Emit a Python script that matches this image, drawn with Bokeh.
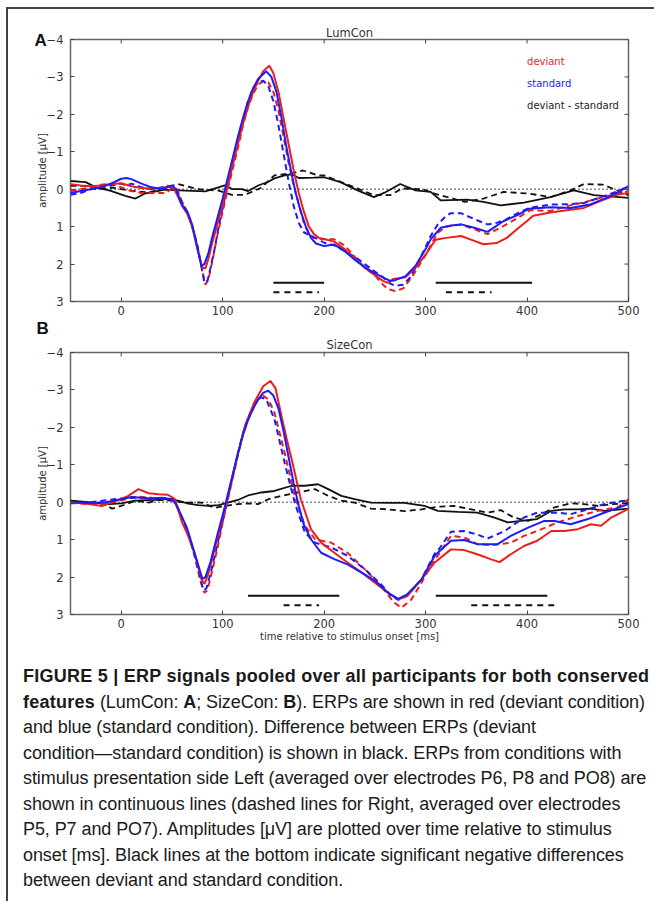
import math
from bokeh.plotting import figure
from bokeh.models import Range1d, LinearAxis, FixedTicker, Div, Title
from bokeh.layouts import column
from bokeh.embed import file_html
from bokeh.resources import INLINE

# ---------------- Panel A: LumCon ----------------
a_red_sol_t = [-50, -40, -30, -20, -10, 0, 10, 20, 30, 40, 48, 52, 56, 60, 65, 70, 75, 80, 83, 86, 90, 95, 100, 105, 110, 115, 120, 125, 130, 135, 140, 146, 150, 155, 160, 165, 170, 175, 180, 185, 190, 195, 200, 210, 220, 230, 240, 250, 258, 263, 268, 275, 280, 290, 300, 306, 310, 320, 335, 348, 357, 370, 380, 390, 400, 406, 423, 439, 456, 472, 489, 500]
a_red_sol_v = [-0.13, -0.1, -0.08, -0.1, -0.14, -0.16, -0.08, -0.03, -0.02, -0.03, -0.08, -0.02, 0.2, 0.45, 0.65, 1.0, 1.6, 2.1, 2.12, 1.85, 1.4, 0.9, 0.4, -0.1, -0.65, -1.2, -1.75, -2.2, -2.6, -2.9, -3.15, -3.3, -3.1, -2.6, -1.9, -1.2, -0.5, 0.1, 0.6, 1.0, 1.2, 1.3, 1.33, 1.4, 1.6, 1.85, 2.1, 2.3, 2.45, 2.5, 2.4, 2.37, 2.35, 2.1, 1.75, 1.5, 1.35, 1.3, 1.25, 1.38, 1.47, 1.44, 1.3, 1.07, 0.85, 0.71, 0.62, 0.56, 0.5, 0.32, 0.14, 0.1]

a_blue_sol_t = [-50, -40, -30, -20, -10, 0, 5, 10, 20, 30, 40, 45, 50, 54, 58, 62, 66, 70, 75, 79, 82, 86, 90, 95, 100, 105, 110, 115, 120, 125, 130, 135, 143, 148, 153, 158, 163, 168, 172, 177, 182, 187, 192, 200, 210, 220, 230, 240, 250, 260, 265, 270, 280, 290, 300, 305, 315, 325, 335, 348, 361, 377, 390, 402, 423, 443, 462, 478, 490, 500]
a_blue_sol_v = [0.1, 0.05, 0.0, -0.05, -0.15, -0.28, -0.3, -0.27, -0.15, -0.05, 0.0, -0.05, -0.1, 0.0, 0.3, 0.5, 0.65, 0.95, 1.55, 2.05, 2.0, 1.7, 1.25, 0.75, 0.25, -0.3, -0.85, -1.4, -1.9, -2.35, -2.7, -2.95, -3.15, -3.0, -2.6, -1.9, -1.1, -0.4, 0.1, 0.6, 1.0, 1.3, 1.45, 1.52, 1.48, 1.65, 1.88, 2.08, 2.25, 2.38, 2.45, 2.43, 2.33, 2.05, 1.6, 1.34, 1.03, 0.97, 0.94, 1.03, 1.14, 0.85, 0.7, 0.52, 0.48, 0.5, 0.41, 0.23, 0.08, -0.08]

a_red_dash_t = [-50, -40, -30, -20, -10, 0, 10, 20, 30, 40, 45, 50, 55, 60, 65, 70, 75, 80, 83, 86, 90, 95, 100, 105, 110, 115, 120, 125, 130, 135, 140, 145, 150, 155, 160, 165, 170, 175, 180, 185, 190, 200, 210, 220, 230, 240, 250, 258, 263, 270, 278, 285, 290, 300, 306, 312, 320, 335, 348, 361, 377, 390, 403, 423, 440, 456, 478, 490, 500]
a_red_dash_v = [0.05, 0.0, -0.05, -0.12, -0.15, -0.05, 0.05, 0.1, 0.1, 0.1, 0.1, -0.05, 0.0, 0.35, 0.6, 1.0, 1.5, 2.2, 2.55, 2.4, 1.9, 1.2, 0.6, 0.0, -0.55, -1.1, -1.7, -2.2, -2.55, -2.8, -2.88, -2.85, -2.6, -2.1, -1.4, -0.7, -0.1, 0.4, 0.9, 1.2, 1.3, 1.34, 1.34, 1.5, 1.8, 2.1, 2.3, 2.55, 2.67, 2.72, 2.65, 2.4, 2.2, 1.75, 1.45, 1.16, 1.0, 0.94, 1.07, 1.2, 0.98, 0.78, 0.56, 0.58, 0.45, 0.35, 0.19, 0.12, 0.05]

a_blue_dash_t = [-50, -40, -30, -20, -10, 0, 5, 10, 15, 20, 30, 40, 45, 50, 55, 60, 65, 70, 75, 80, 82, 85, 88, 92, 96, 100, 105, 110, 115, 120, 125, 130, 135, 140, 145, 150, 155, 160, 165, 170, 175, 180, 187, 195, 200, 210, 220, 230, 240, 250, 258, 265, 270, 278, 285, 290, 300, 305, 312, 320, 325, 335, 348, 361, 370, 380, 390, 402, 423, 440, 456, 475, 490, 500]
a_blue_dash_v = [0.15, 0.1, 0.0, -0.05, -0.1, -0.15, -0.1, -0.15, -0.1, -0.05, 0.0, -0.05, -0.1, -0.05, 0.05, 0.35, 0.6, 1.0, 1.5, 2.2, 2.5, 2.45, 2.1, 1.6, 1.0, 0.5, -0.1, -0.7, -1.3, -1.85, -2.35, -2.7, -2.85, -2.9, -2.75, -2.35, -1.7, -0.95, -0.2, 0.45, 0.9, 1.15, 1.25, 1.35, 1.43, 1.5, 1.65, 1.8, 2.0, 2.2, 2.35, 2.52, 2.58, 2.55, 2.35, 2.1, 1.55, 1.25, 0.94, 0.72, 0.64, 0.64, 0.8, 0.94, 0.9, 0.8, 0.65, 0.5, 0.41, 0.4, 0.37, 0.19, 0.05, -0.08]

a_diff_sol_t = [-50, -35, -25, -11, 4, 14, 23, 43, 63, 83, 102, 110, 119, 125, 135, 145, 151, 161, 168, 175, 190, 200, 216, 233, 249, 259, 275, 290, 305, 315, 341, 357, 374, 397, 423, 446, 466, 500]
a_diff_sol_v = [-0.22, -0.19, -0.05, 0.04, 0.18, 0.25, 0.12, 0.01, 0.04, 0.06, -0.1, 0.0, 0.0, 0.05, -0.1, -0.2, -0.29, -0.37, -0.4, -0.3, -0.31, -0.32, -0.19, 0.03, 0.21, 0.1, -0.14, 0.03, 0.07, 0.3, 0.28, 0.34, 0.43, 0.36, 0.21, 0.03, 0.16, 0.23]

a_diff_dash_t = [-50, -35, -25, -8, 10, 27, 43, 56, 76, 96, 109, 122, 138, 151, 168, 179, 194, 200, 216, 233, 249, 265, 277, 297, 309, 339, 357, 377, 403, 423, 443, 456, 475, 500]
a_diff_dash_v = [-0.09, -0.09, 0.0, -0.04, 0.04, 0.09, -0.04, -0.14, 0.0, 0.04, 0.15, 0.15, -0.04, -0.37, -0.43, -0.5, -0.37, -0.37, -0.2, -0.02, 0.16, 0.16, -0.02, 0.0, 0.12, 0.34, 0.25, 0.07, 0.12, 0.21, 0.03, -0.14, -0.12, 0.16]

a_sig_solid = [(150, 200), (310, 405)]
a_sig_dashed = [(150, 195), (320, 365)]

# ---------------- Panel B: SizeCon ----------------
b_red_sol_t = [-50, -32, -19, -6, 7, 17, 27, 37, 46, 53, 60, 66, 73, 79, 82, 86, 92, 102, 112, 122, 131, 140, 147, 152, 158, 163, 168, 177, 187, 197, 210, 223, 237, 250, 263, 273, 282, 296, 309, 325, 338, 351, 364, 373, 384, 397, 410, 424, 437, 450, 463, 473, 483, 496, 500]
b_red_sol_v = [0.0, 0.05, 0.1, -0.03, -0.17, -0.35, -0.24, -0.21, -0.2, -0.08, 0.54, 0.9, 1.43, 2.06, 2.18, 1.9, 1.26, 0.19, -0.97, -2.04, -2.66, -3.1, -3.24, -3.05, -2.3, -1.7, -1.15, -0.08, 0.72, 1.08, 1.35, 1.61, 1.88, 2.15, 2.42, 2.6, 2.5, 2.06, 1.61, 1.26, 1.28, 1.39, 1.52, 1.6, 1.39, 1.17, 1.03, 0.77, 0.77, 0.72, 0.59, 0.63, 0.41, 0.23, 0.17]

b_blue_sol_t = [-50, -30, -15, 0, 10, 20, 30, 40, 50, 55, 60, 65, 70, 75, 80, 83, 88, 95, 100, 105, 110, 115, 120, 125, 130, 135, 140, 145, 150, 155, 160, 165, 170, 175, 180, 187, 197, 210, 223, 237, 250, 263, 273, 282, 296, 309, 312, 325, 338, 351, 371, 384, 401, 417, 427, 443, 460, 476, 500]
b_blue_sol_v = [0.0, 0.02, 0.0, -0.08, -0.14, -0.12, -0.1, -0.12, -0.08, 0.1, 0.4, 0.7, 1.15, 1.6, 2.05, 2.0, 1.6, 0.85, 0.35, -0.2, -0.75, -1.3, -1.8, -2.2, -2.5, -2.75, -2.92, -2.98, -2.85, -2.5, -1.9, -1.2, -0.5, 0.1, 0.6, 0.99, 1.35, 1.52, 1.66, 1.88, 2.1, 2.42, 2.58, 2.46, 2.06, 1.43, 1.35, 1.03, 1.01, 1.12, 1.12, 0.9, 0.68, 0.5, 0.5, 0.59, 0.45, 0.28, 0.05]

b_red_dash_t = [-50, -30, -15, 0, 15, 30, 45, 52, 58, 63, 68, 73, 78, 82, 85, 90, 95, 100, 105, 110, 115, 120, 125, 130, 135, 140, 145, 151, 161, 171, 181, 191, 207, 223, 240, 256, 269, 276, 286, 296, 309, 312, 325, 338, 351, 364, 384, 397, 410, 430, 450, 470, 489, 500]
b_red_dash_v = [0.02, 0.05, 0.05, -0.05, -0.15, -0.12, -0.1, -0.05, 0.3, 0.65, 1.0, 1.5, 2.1, 2.42, 2.35, 1.8, 1.2, 0.55, -0.05, -0.65, -1.25, -1.8, -2.2, -2.5, -2.75, -2.84, -2.75, -2.4, -1.33, -0.17, 0.63, 0.99, 1.08, 1.35, 1.79, 2.24, 2.68, 2.82, 2.6, 2.15, 1.52, 1.43, 0.9, 0.94, 1.12, 1.15, 1.08, 0.9, 0.77, 0.54, 0.37, 0.23, 0.14, -0.08]

b_blue_dash_t = [-50, -30, -15, 0, 15, 30, 45, 52, 58, 63, 68, 73, 78, 81, 84, 89, 95, 100, 105, 110, 115, 120, 125, 130, 135, 138, 143, 151, 161, 171, 181, 191, 207, 223, 240, 256, 266, 273, 282, 296, 309, 312, 325, 338, 351, 361, 378, 397, 410, 430, 443, 460, 476, 496, 500]
b_blue_dash_v = [0.03, 0.0, -0.05, -0.1, -0.12, -0.1, -0.1, -0.05, 0.3, 0.6, 1.0, 1.5, 2.05, 2.35, 2.3, 1.8, 1.1, 0.5, -0.1, -0.7, -1.3, -1.85, -2.25, -2.55, -2.75, -2.8, -2.75, -2.22, -1.06, 0.01, 0.81, 1.08, 1.21, 1.43, 1.79, 2.19, 2.5, 2.61, 2.5, 2.06, 1.37, 1.3, 0.79, 0.77, 0.86, 0.97, 0.77, 0.41, 0.28, 0.28, 0.32, 0.19, 0.05, -0.04, -0.06]

b_diff_sol_t = [-50, -32, -12, 0, 14, 33, 46, 56, 66, 76, 86, 96, 105, 115, 125, 138, 151, 168, 181, 194, 204, 217, 230, 246, 263, 279, 299, 312, 332, 351, 368, 381, 394, 410, 424, 437, 450, 463, 476, 500]
b_diff_sol_v = [-0.04, 0.0, 0.05, 0.03, -0.04, -0.06, -0.08, -0.04, 0.04, 0.08, 0.1, 0.08, 0.01, -0.06, -0.18, -0.26, -0.3, -0.44, -0.44, -0.48, -0.35, -0.17, -0.08, 0.01, 0.02, 0.02, 0.1, 0.23, 0.26, 0.28, 0.41, 0.54, 0.5, 0.45, 0.23, 0.19, 0.19, 0.17, 0.23, 0.17]

b_diff_dash_t = [-50, -32, -19, -9, 0, 14, 27, 37, 50, 63, 79, 92, 102, 115, 125, 135, 145, 158, 174, 191, 204, 217, 230, 246, 263, 279, 296, 312, 328, 345, 361, 374, 387, 401, 414, 427, 443, 456, 470, 483, 500]
b_diff_dash_v = [-0.04, 0.03, 0.03, 0.17, 0.1, -0.04, 0.01, -0.06, -0.04, 0.01, 0.01, 0.15, 0.1, 0.05, 0.03, 0.05, -0.08, -0.17, -0.26, -0.35, -0.17, -0.04, 0.01, 0.17, 0.19, 0.24, 0.19, 0.12, 0.1, 0.19, 0.28, 0.21, 0.41, 0.5, 0.32, 0.14, 0.03, 0.05, 0.1, 0.05, 0.03]

b_sig_solid = [(125, 215), (310, 420)]
b_sig_dashed = [(160, 195), (345, 428)]

x_ticks = [0, 100, 200, 300, 400, 500]
y_ticks = [-4, -3, -2, -1, 0, 1, 2, 3]
x_lim = (-50, 500)
y_lim = (3, -4)
legend_labels = ["deviant", "standard", "deviant - standard"]
legend_y = [-3.4, -2.83, -2.25]
legend_x = 400

RED = "#f01c1c"
BLUE = "#1c1cf5"
BLACK = "#111111"
FONT = "DejaVu Sans"


def panel(tag, title, series, sig_solid, sig_dashed, height, top, bottom,
          title_standoff, tag_standoff, tag_offset, tag_first, legend=False, xlabel=None):
    p = figure(width=636, height=height, output_backend="svg", toolbar_location=None,
               x_range=Range1d(*x_lim), y_range=Range1d(*y_lim),
               min_border_left=62, min_border_right=16, min_border_top=top, min_border_bottom=bottom,
               x_axis_location=None, y_axis_location=None)
    p.grid.visible = False
    p.outline_line_color = "#666666"
    p.outline_line_width = 1.5
    p.background_fill_color = "white"
    p.border_fill_color = "white"

    xa = LinearAxis(ticker=FixedTicker(ticks=x_ticks))
    xa.axis_line_color = None
    xa.major_tick_in = 4
    xa.major_tick_out = 0
    xa.major_tick_line_color = "#444444"
    xa.minor_tick_line_color = None
    xa.major_label_text_font = FONT
    xa.major_label_text_font_size = "11.5px"
    xa.major_label_text_color = "#333333"
    xa.major_label_standoff = 4
    if xlabel:
        xa.axis_label = xlabel
        xa.axis_label_text_font = FONT
        xa.axis_label_text_font_size = "10px"
        xa.axis_label_text_font_style = "normal"
        xa.axis_label_text_color = "#333333"
        xa.axis_label_standoff = 0
    p.add_layout(xa, "below")

    ya = LinearAxis(ticker=FixedTicker(ticks=y_ticks))
    ya.axis_line_color = None
    ya.major_tick_in = 4
    ya.major_tick_out = 0
    ya.major_tick_line_color = "#444444"
    ya.minor_tick_line_color = None
    ya.major_label_text_font = FONT
    ya.major_label_text_font_size = "11.5px"
    ya.major_label_text_color = "#333333"
    ya.major_label_standoff = 7
    ya.axis_label = "amplitude [\u03bcV]"
    ya.axis_label_text_font = FONT
    ya.axis_label_text_font_size = "10px"
    ya.axis_label_text_font_style = "normal"
    ya.axis_label_text_color = "#333333"
    ya.axis_label_standoff = -4
    p.add_layout(ya, "left")

    # inward ticks on the top and right edges (outer half is clipped by the frame)
    p.scatter(x_ticks, [y_lim[1]] * len(x_ticks), marker="dash", size=8, angle=math.pi / 2,
              line_color="#444444", line_width=1)
    p.scatter([x_lim[1]] * len(y_ticks), y_ticks, marker="dash", size=8,
              line_color="#444444", line_width=1)

    # zero line
    p.line(list(x_lim), [0, 0], line_color="#111111", line_width=1.4, line_dash="1 3")

    for (t, v, color, dashed, w) in series:
        p.line(t, v, line_color=color, line_width=w, line_dash="6 4" if dashed else "solid")

    for (a, b) in sig_solid:
        p.line([a, b], [2.5, 2.5], line_color=BLACK, line_width=2)
    for (a, b) in sig_dashed:
        p.line([a, b], [2.75, 2.75], line_color=BLACK, line_width=2, line_dash="6 5")

    t_name = Title(text=title, align="center", text_font=FONT, text_font_size="11.5px",
                   text_font_style="normal", text_color="#333333", standoff=title_standoff)
    t_tag = Title(text=tag, align="left", offset=tag_offset, text_font="Liberation Sans",
                  text_font_size="17px", text_font_style="bold", text_color="#111111",
                  standoff=tag_standoff)
    if tag_first:
        p.add_layout(t_tag, "above")
        p.add_layout(t_name, "above")
    else:
        p.add_layout(t_name, "above")
        p.add_layout(t_tag, "above")

    if legend:
        p.text(x=[legend_x] * 3, y=legend_y, text=legend_labels,
               text_color=[RED, BLUE, "#222222"], text_align="left", text_baseline="middle",
               text_font={"value": FONT}, text_font_size={"value": "10px"})
    return p


series_a = [
    (a_diff_sol_t, a_diff_sol_v, BLACK, False, 1.8),
    (a_diff_dash_t, a_diff_dash_v, BLACK, True, 1.8),
    (a_red_dash_t, a_red_dash_v, RED, True, 2.0),
    (a_blue_dash_t, a_blue_dash_v, BLUE, True, 2.0),
    (a_red_sol_t, a_red_sol_v, RED, False, 2.0),
    (a_blue_sol_t, a_blue_sol_v, BLUE, False, 2.0),
]
series_b = [
    (b_diff_sol_t, b_diff_sol_v, BLACK, False, 1.8),
    (b_diff_dash_t, b_diff_dash_v, BLACK, True, 1.8),
    (b_red_dash_t, b_red_dash_v, RED, True, 2.0),
    (b_blue_dash_t, b_blue_dash_v, BLUE, True, 2.0),
    (b_red_sol_t, b_red_sol_v, RED, False, 2.0),
    (b_blue_sol_t, b_blue_sol_v, BLUE, False, 2.0),
]

pa = panel("A", "LumCon", series_a, a_sig_solid, a_sig_dashed, 310, 30, 18,
           title_standoff=0, tag_standoff=-21, tag_offset=-36, tag_first=True, legend=True)
pb = panel("B", "SizeCon", series_b, b_sig_solid, b_sig_dashed, 327, 33, 32,
           title_standoff=1, tag_standoff=-5, tag_offset=-34, tag_first=False,
           xlabel="time relative to stimulus onset [ms]")

caption_html = (
    "<div style=\"font-family:'Liberation Sans',Arial,sans-serif;font-size:18px;line-height:25.5px;"
    "color:#1a1a1a;letter-spacing:-0.08px;white-space:nowrap;padding:13px 0 0 10px;\">"
    "<b style='letter-spacing:0.25px'>FIGURE 5 | ERP signals pooled over all participants for both conserved<br>features</b> "
    "(LumCon: <b>A</b>; SizeCon: <b>B</b>). ERPs are shown in red (deviant condition)<br>"
    "and blue (standard condition). Difference between ERPs (deviant<br>"
    "condition\u2014standard condition) is shown in black. ERPs from conditions with<br>"
    "stimulus presentation side Left (averaged over electrodes P6, P8 and PO8) are<br>"
    "shown in continuous lines (dashed lines for Right, averaged over electrodes<br>"
    "P5, P7 and PO7). Amplitudes [\u03bcV] are plotted over time relative to stimulus<br>"
    "onset [ms]. Black lines at the bottom indicate significant negative differences<br>"
    "between deviant and standard condition.</div>"
)
cap = Div(text=caption_html, width=636, height=245)

layout = column(pa, pb, cap, styles={"border-left": "2px solid #444", "border-top": "2px solid #444",
                                     "margin-left": "6px", "margin-top": "7px"})

open("out.html", "w").write(file_html(layout, INLINE))
